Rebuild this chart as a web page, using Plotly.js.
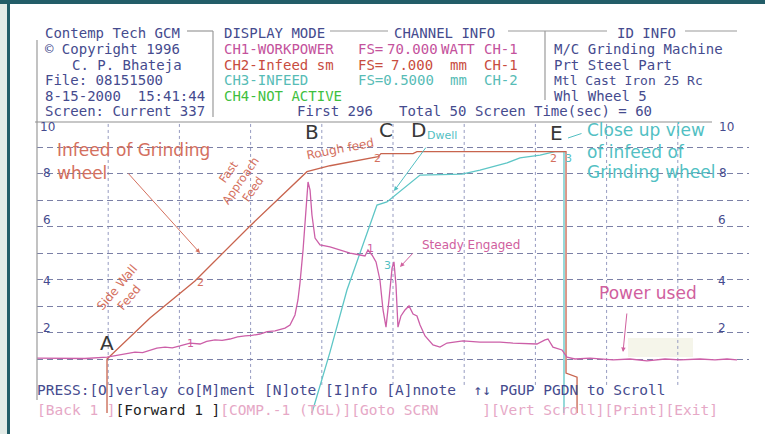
<!DOCTYPE html>
<html><head><meta charset="utf-8">
<script src="https://cdn.plot.ly/plotly-3.0.1.min.js"></script>
<style>html,body{margin:0;padding:0;background:#fff;}#chart{width:765px;height:434px;}</style>
</head><body><div id="chart"></div>
<script>
// ---- data (time in seconds, 0-60 screen; values in screen units 0-10) ----
const powerTime  = [0.00,1.94,4.04,5.90,6.99,7.60,8.26,8.90,9.52,10.10,10.79,11.40,12.05,12.89,13.74,14.30,15.00,15.60,16.26,16.90,17.53,18.10,18.79,19.40,20.06,20.90,21.32,21.74,21.99,22.16,22.42,22.58,22.84,23.01,23.17,23.43,23.85,24.69,25.53,26.38,27.22,27.64,27.89,28.23,28.57,28.90,29.16,29.41,29.66,29.92,30.08,30.25,30.42,30.67,31.01,31.35,31.69,32.02,32.28,32.70,33.37,33.96,34.55,35.90,37.33,39.02,40.11,41.29,42.13,42.81,43.06,43.48,44.24,44.66,45.34,46.60,48.54,49.97,51.40,52.92,54.19,55.87,57.13,58.15,58.99];
const powerValue = [0.04,0.04,0.02,0.08,0.17,0.21,0.29,0.27,0.38,0.46,0.50,0.47,0.55,0.67,0.63,0.74,0.80,0.78,0.84,0.93,0.97,0.99,1.05,1.15,1.18,1.30,1.43,1.85,2.48,3.19,4.58,5.84,7.44,7.10,6.05,5.08,4.79,4.71,4.58,4.45,4.37,4.33,4.58,4.37,4.08,3.32,2.06,1.34,2.48,3.82,4.08,3.11,1.34,1.81,2.06,2.23,1.89,1.81,1.43,0.97,0.59,0.50,0.67,0.76,0.71,0.71,0.67,0.63,0.63,0.80,0.84,0.50,0.38,0.08,0.00,0.04,-0.04,0.00,-0.08,0.00,-0.04,0.00,-0.04,0.00,-0.04];

const infeedTime  = [5.90,5.90,9.52,13.31,17.95,22.75,24.69,26.80,28.74,28.99,31.69,32.02,37.33,43.48,44.58,44.58,45.51,45.51];
const infeedValue = [-2.27,0.00,1.72,3.28,5.59,7.87,8.12,8.33,8.50,8.63,8.63,8.71,8.71,8.71,8.71,-0.59,-0.76,-2.27];

const closeupTime  = [23.17,24.69,26.12,27.89,28.65,29.49,32.28,35.81,37.33,39.61,40.70,42.39,43.65,44.41,44.41];
const closeupValue = [-2.27,0.29,2.90,5.42,6.47,6.60,7.73,7.77,7.94,8.24,8.45,8.57,8.71,8.71,-2.27];

const yTickLabels = ["10","8","6","4","2"];
const gridTimes = [6,12,18,24,30,36,42,48,54];

// ---- layout helpers (pixel -> paper) ----
const PL=37, PR=749, PT=121, PB=416;
const X = p => (p-PL)/(PR-PL);
const Y = p => (PB-p)/(PB-PT);

const NAVY='#454b8e', MAG='#c4529c', RED='#c84c3e', TEAL='#57bcb6', GREEN='#3fbf3f';
const AR='#d4705e', AT='#52bfc3', AP='#d0609e';
const MONO='DejaVu Sans Mono', SANS='DejaVu Sans';

const ann = [];
function T(text,x,y,color,size,family,opts){
  opts=opts||{};
  ann.push(Object.assign({text:text,x:X(x),y:Y(y),xref:'paper',yref:'paper',showarrow:false,
    xanchor:'left',yanchor:'middle',font:{family:family||MONO,size:size||14,color:color}},opts));
}
function A(x,y,tx,ty,color,head){
  ann.push({text:'',x:X(x),y:Y(y),xref:'paper',yref:'paper',showarrow:true,ax:tx-x,ay:ty-y,
    arrowcolor:color,arrowwidth:1,arrowhead:head===undefined?2:head,arrowsize:0.9});
}
const nb = s => s.replace(/ /g,'\u00a0');

// header
T('Contemp Tech GCM',43,33,NAVY); T('DISPLAY MODE',222,33,NAVY); T('CHANNEL INFO',392,33,NAVY); T('ID INFO',615,33,NAVY);
T('© Copyright 1996',43,49,NAVY); T('CH1-WORKPOWER',222,49,MAG); T('FS=',356,49,MAG); T('70.000',385,49,MAG); T('WATT',439,49,MAG); T('CH-1',482,49,MAG); T('M/C Grinding Machine',552,49,NAVY);
T('C. P. Bhateja',70,65,NAVY); T('CH2-Infeed sm',222,65,RED); T('FS=',356,65,RED); T('7.000',389,65,RED); T('mm',448,65,RED); T('CH-1',482,65,RED); T('Prt Steel Part',552,65,NAVY);
T('File: 08151500',43,80,NAVY); T('CH3-INFEED',222,80,TEAL); T('FS=0.5000',356,80,TEAL); T('mm',448,80,TEAL); T('CH-2',482,80,TEAL); T('Mtl Cast Iron 25 Rc',552,80,NAVY,13);
T(nb('8-15-2000  15:41:44'),43,96,NAVY); T('CH4-NOT ACTIVE',222,96,GREEN); T('Whl Wheel 5',552,96,NAVY);
T('Screen: Current 337',43,111,NAVY); T('First 296',295,111,NAVY); T('Total 50',397,111,NAVY); T('Screen Time(sec) = 60',473,111,NAVY);

// footer
T(nb('PRESS:[O]verlay co[M]ment [N]ote [I]nfo [A]nnote  ↑↓ PGUP PGDN to Scroll'),35,390,NAVY,14.5);
T('<span style="color:#e6a8c6">'+nb('[Back 1 ]')+'</span><span style="color:#222222">'+nb('[Forward 1 ]')+'</span><span style="color:#e6a8c6">'+nb('[COMP.-1 (TGL)][Goto SCRN     ][Vert Scroll][Print][Exit]')+'</span>',35,410,'#e6a8c6',14.5);

// y tick labels
const leftY=[127,173,220,281,328], rightX=[726,723,722,722,722];
yTickLabels.forEach((t,i)=>{ T(t,47,leftY[i],NAVY,12,SANS,{xanchor:'center'}); T(t,rightX[i],leftY[i],NAVY,12,SANS,{xanchor:'center'}); });

// in-plot annotations
T('Infeed of Grinding',55,150,AR,17,SANS);
T('wheel',55,173,AR,17,SANS);
A(200,253,127,172,AR,2);
T('Fast<br>Approach<br>Feed',241,180,AR,11.5,SANS,{xanchor:'center',textangle:-55});
T('Side Wall<br>Feed',123,293,AR,12,SANS,{xanchor:'center',textangle:-50});
T('Rough feed',340,149,AR,12,SANS,{xanchor:'center',textangle:-11});
T('Dwell',442,135,AT,11,SANS,{xanchor:'center'});
A(394,191,427,146,AT,2);
T('Close up view',585,130,AT,17,SANS);
T('of infeed of',585,152,AT,17,SANS);
T('Grinding wheel',585,172,AT,17,SANS);
A(568,138,583,133,AT,0);
T('Steady Engaged',420,245,AP,12,SANS);
A(400,267,414,252,AP,2);
T('Power used',597,293,AP,17,SANS);
A(623,352,627,312,AP,2);
// letters
[['A',107,343],['B',312,132],['C',386,130],['D',418,130],['E',556,133]].forEach(l=>T(l[0],l[1],l[2],'#383838',20,SANS,{xanchor:'center'}));
// channel markers
[['2',200,282,AR],['2',377,158,AR],['2',553,158,AR],['1',190,343,AP],['1',370,248,AP],['3',387,265,AT],['3',568,158,AT]].forEach(m=>T(m[0],m[1],m[2],m[3],11,SANS,{xanchor:'center'}));

// shapes
const shapes=[];
function R(x0,y0,x1,y1,fill){shapes.push({type:'rect',xref:'paper',yref:'paper',x0:X(x0),x1:X(x1),y0:Y(y1),y1:Y(y0),fillcolor:fill,line:{width:0},layer:'below'});}
function L(x0,y0,x1,y1,color,w){shapes.push({type:'line',xref:'paper',yref:'paper',x0:X(x0),x1:X(x1),y0:Y(y0),y1:Y(y1),line:{color:color,width:w||1.2}});}
R(0,0,7,434,'#e3ebe7'); R(7,0,10,434,'#235d68'); R(0,0,765,4,'#235d68');
R(628,338,693,357,'#f5f5ea');
L(37,40,37,400,'#9a9a9a'); L(35,122,712,122,'#8f8f8f');
L(187,31,213,31,'#9a9a9a'); L(213,31,213,117,'#9a9a9a');
L(330,31,388,31,'#9a9a9a'); L(508,31,607,31,'#9a9a9a'); L(545,31,545,100,'#9a9a9a'); L(685,31,737,31,'#9a9a9a');
gridTimes.forEach(t=>shapes.push({type:'line',xref:'x',yref:'y',x0:t,x1:t,y0:-1.09,y1:10,layer:'below',line:{color:'#959ac0',width:1,dash:'3px,3px'}}));

const gridVals = Array.from({length:9},(_,k)=>k*10/9);

const traces=[
 {x:closeupTime,y:closeupValue,type:'scatter',mode:'lines',line:{color:'#5ec6c6',width:1.3},hoverinfo:'skip'},
 {x:infeedTime,y:infeedValue,type:'scatter',mode:'lines',line:{color:'#c8644e',width:1.3},hoverinfo:'skip'},
 {x:powerTime,y:powerValue,type:'scatter',mode:'lines',line:{color:'#cc5fa8',width:1.3},hoverinfo:'skip'}
];

const layout={
 width:765,height:434,margin:{l:PL,r:765-PR,t:PT,b:434-PB,pad:0},
 paper_bgcolor:'#ffffff',plot_bgcolor:'rgba(0,0,0,0)',showlegend:false,
 xaxis:{range:[0,60],showgrid:false,zeroline:false,showticklabels:false,showline:false,ticks:''},
 yaxis:{range:[-2.395,10],tickmode:'array',tickvals:gridVals,showticklabels:false,ticks:'',showgrid:true,
        gridcolor:'#7b80a6',gridwidth:1,griddash:'6px,4px',zeroline:false,showline:false},
 annotations:ann,shapes:shapes
};
Plotly.newPlot('chart',traces,layout,{staticPlot:true,displayModeBar:false});
</script></body></html>
